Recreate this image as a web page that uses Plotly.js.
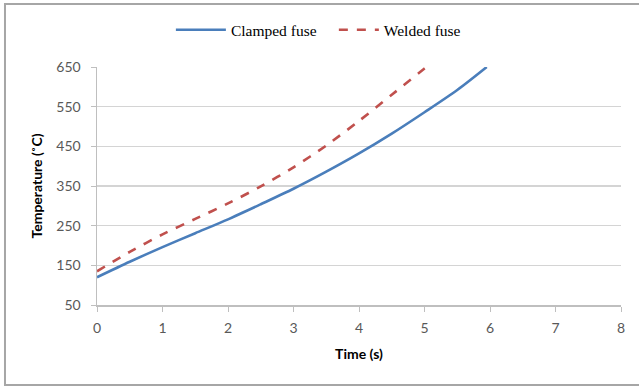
<!DOCTYPE html>
<html>
<head>
<meta charset="utf-8">
<script src="https://cdn.plot.ly/plotly-3.0.1.min.js"></script>
<style>html,body{margin:0;padding:0;background:#fff;}#chart{width:639px;height:386px;}</style>
</head>
<body>
<div id="chart"></div>
<script>
// Clamped fuse (blue, solid)
var clampedTime = [0, 0.5, 1, 1.5, 2, 2.5, 3, 3.5, 4, 4.5, 5, 5.5, 5.95];
var clampedTemp = [120, 159, 196, 231, 266, 304, 343, 386, 432, 482, 536, 592, 650];
// Welded fuse (red, dashed)
var weldedTime = [0, 0.5, 1, 1.5, 2, 2.5, 3, 3.5, 4, 4.5, 5, 5.03];
var weldedTemp = [135, 184, 228, 267, 306, 349, 397, 452, 514, 580, 646, 650];
var seriesNames = ["Clamped fuse", "Welded fuse"];
var yTicks = [50, 150, 250, 350, 450, 550, 650];
var xTicks = [0, 1, 2, 3, 4, 5, 6, 7, 8];

var traces = [
  {x: clampedTime, y: clampedTemp, name: seriesNames[0], mode: "lines", legend: "legend",
   line: {color: "#4a7ebb", width: 2.6, shape: "spline", smoothing: 0.8}},
  {x: weldedTime, y: weldedTemp, name: seriesNames[1], mode: "lines", legend: "legend2",
   line: {color: "#c0504d", width: 2.6, dash: "dash", shape: "spline", smoothing: 0.8}}
];

var legFont = {family: "'Liberation Serif', 'Times New Roman', serif", size: 15.5, color: "#000"};
var tickFont = {family: "Lato, 'Open Sans', sans-serif", size: 14, color: "#595959"};
var layout = {
  width: 639, height: 386,
  margin: {l: 97, r: 18, t: 67, b: 81},
  paper_bgcolor: "#fff", plot_bgcolor: "#fff",
  showlegend: true,
  legend: {orientation: "h", x: 0.141, xanchor: "left", y: 1.155, yanchor: "middle",
           font: legFont, itemwidth: 50, bgcolor: "rgba(0,0,0,0)"},
  legend2: {orientation: "h", x: 0.452, xanchor: "left", y: 1.155, yanchor: "middle",
           font: legFont, itemwidth: 40, bgcolor: "rgba(0,0,0,0)"},
  xaxis: {range: [0, 8], tickvals: xTicks, ticks: "outside", ticklen: 5, tickcolor: "#bfbfbf",
          showline: true, linecolor: "#bfbfbf", linewidth: 1.5, showgrid: false, zeroline: false,
          tickfont: tickFont, ticklabelstandoff: 5,
          title: {text: "<b>Time (s)</b>", font: {family: "Lato, 'Open Sans', sans-serif", size: 14, color: "#000"}, standoff: 14}},
  yaxis: {range: [50, 650], tickvals: yTicks, ticks: "outside", ticklen: 5, tickcolor: "#bfbfbf",
          showline: true, linecolor: "#bfbfbf", linewidth: 1.5, showgrid: true, gridcolor: "#d4d4d4", gridwidth: 1.5,
          zeroline: false, tickfont: tickFont, ticklabelstandoff: 7,
          title: {text: "<b>Temperature (˚C)</b>", font: {family: "Lato, 'Open Sans', sans-serif", size: 14, color: "#000"}, standoff: 10}},
  shapes: [
    {type: "rect", xref: "paper", yref: "paper", x0: -0.1756, x1: 1.05, y0: -0.336, y1: 1.2647,
     line: {color: "#a6a6a6", width: 2}, fillcolor: "rgba(0,0,0,0)", layer: "below"}
  ]
};

Plotly.newPlot("chart", traces, layout, {displayModeBar: false, staticPlot: true});
</script>
</body>
</html>
